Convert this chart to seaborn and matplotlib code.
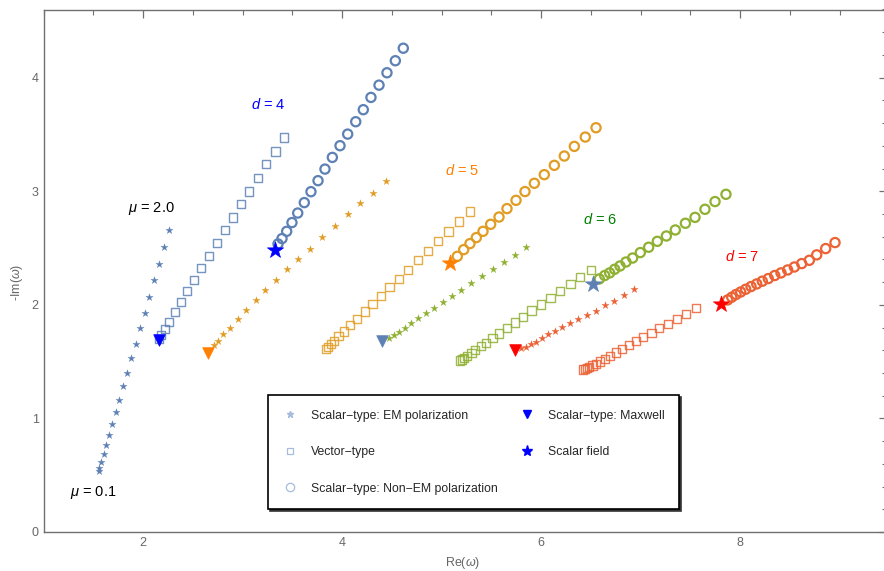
import numpy as np
import pandas as pd
import matplotlib
matplotlib.use("Agg")
import matplotlib.pyplot as plt
from matplotlib.lines import Line2D
from matplotlib.ticker import MultipleLocator
import seaborn as sns

# ---------------- data ----------------
# d = 4
em4_re = [1.555,1.561,1.581,1.605,1.631,1.661,1.688,1.726,1.759,1.799,1.839,1.879,1.927,1.967,2.017,2.060,2.114,2.161,2.214,2.264]
em4_im = [0.536,0.565,0.618,0.686,0.765,0.853,0.952,1.055,1.161,1.284,1.401,1.533,1.659,1.796,1.928,2.069,2.216,2.362,2.508,2.656]
vec4_re = [2.164,2.184,2.218,2.264,2.319,2.379,2.445,2.510,2.586,2.661,2.741,2.821,2.905,2.985,3.068,3.153,3.239,3.330,3.417]
vec4_im = [1.700,1.735,1.788,1.847,1.935,2.023,2.120,2.219,2.322,2.427,2.544,2.656,2.770,2.885,2.999,3.116,3.237,3.351,3.474]
nem4_re = [3.357,3.397,3.444,3.497,3.555,3.621,3.688,3.759,3.829,3.903,3.980,4.057,4.138,4.214,4.291,4.372,4.452,4.536,4.616]
nem4_im = [2.536,2.583,2.647,2.724,2.808,2.900,2.996,3.093,3.195,3.298,3.401,3.503,3.612,3.718,3.826,3.934,4.043,4.149,4.259]
# d = 5
em5_re = [2.711,2.757,2.807,2.877,2.952,3.038,3.133,3.229,3.337,3.444,3.561,3.681,3.802,3.930,4.057,4.184,4.315,4.445]
em5_im = [1.642,1.680,1.739,1.800,1.876,1.953,2.043,2.131,2.219,2.313,2.404,2.495,2.595,2.694,2.797,2.894,2.988,3.087]
vec5_re = [3.839,3.862,3.889,3.920,3.966,4.020,4.083,4.154,4.231,4.308,4.389,4.479,4.570,4.663,4.761,4.861,4.965,5.072,5.179,5.286]
vec5_im = [1.609,1.627,1.653,1.683,1.724,1.765,1.821,1.876,1.941,2.005,2.078,2.155,2.225,2.304,2.392,2.474,2.559,2.647,2.735,2.823]
nem5_re = [5.159,5.223,5.286,5.350,5.417,5.494,5.578,5.658,5.749,5.839,5.933,6.033,6.134,6.234,6.335,6.445,6.553]
nem5_im = [2.427,2.486,2.539,2.592,2.647,2.709,2.773,2.847,2.920,2.997,3.070,3.146,3.228,3.310,3.395,3.477,3.559]
# d = 6
em6_re = [4.476,4.526,4.576,4.633,4.693,4.764,4.841,4.925,5.012,5.106,5.199,5.300,5.407,5.515,5.628,5.739,5.852]
em6_im = [1.709,1.730,1.759,1.800,1.838,1.885,1.929,1.976,2.025,2.078,2.131,2.190,2.252,2.313,2.375,2.439,2.507]
vec6_re = [5.186,5.203,5.226,5.256,5.300,5.340,5.394,5.450,5.511,5.581,5.658,5.739,5.819,5.906,5.997,6.094,6.191,6.295,6.395,6.500]
vec6_im = [1.510,1.519,1.533,1.551,1.574,1.601,1.636,1.665,1.706,1.748,1.794,1.844,1.894,1.950,2.003,2.058,2.120,2.181,2.245,2.304]
nem6_re = [6.586,6.640,6.690,6.740,6.794,6.854,6.921,6.998,7.082,7.169,7.260,7.350,7.451,7.548,7.648,7.749,7.859]
nem6_im = [2.228,2.258,2.281,2.313,2.342,2.377,2.412,2.460,2.507,2.559,2.606,2.659,2.718,2.770,2.841,2.909,2.973]
# d = 7
em7_re = [5.799,5.849,5.896,5.950,6.007,6.070,6.141,6.214,6.294,6.372,6.459,6.550,6.640,6.734,6.831,6.938]
em7_im = [1.616,1.633,1.653,1.677,1.706,1.739,1.771,1.809,1.844,1.876,1.911,1.950,1.996,2.038,2.084,2.137]
vec7_re = [6.425,6.439,6.459,6.485,6.519,6.553,6.596,6.640,6.693,6.754,6.814,6.884,6.955,7.028,7.109,7.189,7.276,7.367,7.460,7.558]
vec7_im = [1.431,1.436,1.445,1.454,1.466,1.480,1.501,1.522,1.551,1.580,1.612,1.647,1.680,1.715,1.750,1.794,1.829,1.873,1.917,1.970]
nem7_re = [7.876,7.917,7.960,8.007,8.057,8.111,8.168,8.224,8.284,8.349,8.412,8.479,8.546,8.620,8.697,8.771,8.861,8.955]
nem7_im = [2.043,2.067,2.091,2.113,2.137,2.161,2.184,2.208,2.231,2.258,2.281,2.307,2.333,2.363,2.392,2.440,2.495,2.548]

# special points per dimension: Maxwell mode and scalar field
dims = [4, 5, 6, 7]
maxwell_re = [2.158, 2.656, 4.405, 5.736]
maxwell_im = [1.689, 1.577, 1.680, 1.598]
scalar_re = [3.324, 5.085, 6.518, 7.814]
scalar_im = [2.483, 2.369, 2.187, 2.005]

# annotations
dim_labels = ["$d$ = 4", "$d$ = 5", "$d$ = 6", "$d$ = 7"]
dim_label_x = [3.256, 5.206, 6.593, 8.020]
dim_label_y = [3.764, 3.184, 2.753, 2.427]
mu_labels = ["$\\mu$ = 2.0", "$\\mu$ = 0.1"]
mu_label_x = [2.080, 1.497]
mu_label_y = [2.850, 0.352]

legend_labels = ["Scalar\u2212type: EM polarization", "Vector\u2212type",
                 "Scalar\u2212type: Non\u2212EM polarization",
                 "Scalar\u2212type: Maxwell", "Scalar field"]

# ---------------- styles ----------------
series_colors = {4: "#5E81B5", 5: "#E19C24", 6: "#8FB032", 7: "#EB6235"}
label_colors = {4: "#0000FF", 5: "#FF8000", 6: "#008000", 7: "#FF0000"}
special_colors = {4: "#0000FF", 5: "#FF7F00", 6: "#5E81B5", 7: "#FF0000"}

sns.set_style("white")
plt.rcParams["font.family"] = ["Liberation Sans", "DejaVu Sans"]
plt.rcParams["mathtext.fontset"] = "custom"
plt.rcParams["mathtext.it"] = "Liberation Sans:italic"
plt.rcParams["mathtext.rm"] = "Liberation Sans"

# long table
rows = []
data = {
    4: (em4_re, em4_im, vec4_re, vec4_im, nem4_re, nem4_im),
    5: (em5_re, em5_im, vec5_re, vec5_im, nem5_re, nem5_im),
    6: (em6_re, em6_im, vec6_re, vec6_im, nem6_re, nem6_im),
    7: (em7_re, em7_im, vec7_re, vec7_im, nem7_re, nem7_im),
}
for d, (er, ei, vr, vi, nr, ni) in data.items():
    for x, y in zip(er, ei):
        rows.append((d, "em", x, y))
    for x, y in zip(vr, vi):
        rows.append((d, "vec", x, y))
    for x, y in zip(nr, ni):
        rows.append((d, "nem", x, y))
df = pd.DataFrame(rows, columns=["d", "kind", "re", "im"])
sp = pd.DataFrame({"d": dims, "mre": maxwell_re, "mim": maxwell_im,
                   "sre": scalar_re, "sim": scalar_im})

fig = plt.figure(figsize=(8.84, 5.71), dpi=100)
ax = fig.add_axes([43.5 / 884, 1 - 532 / 571, (886.5 - 43.5) / 884, (532 - 9.5) / 571])

for d in dims:
    c = series_colors[d]
    sub = df[(df.d == d) & (df.kind == "vec")]
    sns.scatterplot(data=sub, x="re", y="im", ax=ax, marker="s", s=36,
                    facecolor="none", edgecolor=c, linewidth=1.0, alpha=0.85, legend=False, zorder=2)
    sub = df[(df.d == d) & (df.kind == "em")]
    sns.scatterplot(data=sub, x="re", y="im", ax=ax, marker="*", s=30,
                    color=c, edgecolor=c, linewidth=0.2, legend=False, zorder=3)
    sub = df[(df.d == d) & (df.kind == "nem")]
    sns.scatterplot(data=sub, x="re", y="im", ax=ax, marker="o", s=44,
                    facecolor="none", edgecolor=c, linewidth=1.6, legend=False, zorder=3)

for d in dims:
    row = sp[sp.d == d]
    sc = special_colors[d]
    sns.scatterplot(data=row, x="mre", y="mim", ax=ax, marker="v", s=70,
                    color=sc, edgecolor=sc, linewidth=0.5, legend=False, zorder=5)
    sns.scatterplot(data=row, x="sre", y="sim", ax=ax, marker="*", s=150,
                    color=sc, edgecolor=sc, linewidth=0.5, legend=False, zorder=5)

for lab, x, y, d in zip(dim_labels, dim_label_x, dim_label_y, dims):
    ax.text(x, y, lab, color=label_colors[d], fontsize=10.5, ha="center", va="center")
for lab, x, y in zip(mu_labels, mu_label_x, mu_label_y):
    ax.text(x, y, lab, color="black", fontsize=10.5, ha="center", va="center")

ax.set_xlim(1.0, 2 + (886.5 - 143) / 99.5)
ax.set_ylim(0, 4.6)
ax.xaxis.set_major_locator(MultipleLocator(2))
ax.xaxis.set_minor_locator(MultipleLocator(0.5))
ax.yaxis.set_major_locator(MultipleLocator(1))
ax.yaxis.set_minor_locator(MultipleLocator(0.2))
gray = "#707070"
for s in ax.spines.values():
    s.set_color(gray)
    s.set_linewidth(1.0)
ax.tick_params(which="both", direction="in", top=True, right=True, colors=gray,
               labelcolor="#666666", labelsize=9)
ax.tick_params(which="major", length=6, width=0.9)
ax.tick_params(which="minor", length=3.5, width=0.8)
ax.set_xlabel("")
ax.set_ylabel("")
fig.text(463 / 884, 1 - 563 / 571, "Re($\\omega$)", color="#666666", fontsize=9, ha="center", va="center")
fig.text(17 / 884, 1 - 282 / 571, "-Im($\\omega$)", color="#666666", fontsize=9, ha="center", va="center", rotation=90)

leg_c = "#A7BBDC"
handles = [
    Line2D([], [], ls="none", marker="*", ms=5, color=leg_c, mec=leg_c),
    Line2D([], [], ls="none", marker="s", ms=5, mfc="none", mec=leg_c, mew=0.9),
    Line2D([], [], ls="none", marker="o", ms=6, mfc="none", mec=leg_c, mew=0.9),
    Line2D([], [], ls="none", marker="v", ms=6, color="#0000FF"),
    Line2D([], [], ls="none", marker="*", ms=8, color="#0000FF"),
]
leg = fig.legend(handles, legend_labels, ncol=2, loc="upper left",
                 bbox_to_anchor=(268 / 884, 1 - 395 / 571, (679 - 268) / 884, 0.0),
                 bbox_transform=fig.transFigure, mode="expand", borderaxespad=0,
                 fontsize=8.8, labelspacing=2.0, borderpad=1.2, handletextpad=1.1,
                 handlelength=1.2, columnspacing=1.0, fancybox=False, frameon=True,
                 shadow={"ox": 1.5, "oy": -1.5, "color": "#333333", "alpha": 1.0})
leg.get_frame().set_edgecolor("black")
leg.get_frame().set_linewidth(1.2)
leg.get_frame().set_facecolor("white")

fig.savefig("out.png", dpi=100)
